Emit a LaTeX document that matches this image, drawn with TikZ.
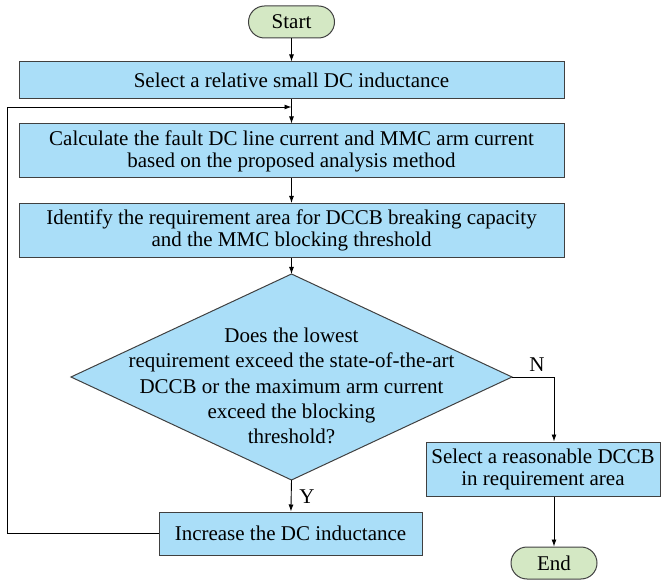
\documentclass[tikz,border=0pt]{standalone}
\usepackage{fontspec}
\setmainfont{Liberation Serif}
\usetikzlibrary{arrows.meta}
\definecolor{boxblue}{RGB}{170,222,248}
\definecolor{termgreen}{RGB}{212,232,196}
\definecolor{edgegray}{RGB}{64,64,64}
\begin{document}
\begin{tikzpicture}[x=1pt,y=-1pt,
  proc/.style={draw=edgegray, fill=boxblue, line width=1pt, inner sep=0pt, align=center, font=\fontsize{21}{22}\selectfont},
  term/.style={draw=edgegray, fill=termgreen, line width=1pt, rounded corners=16pt, minimum width=86pt, minimum height=32pt, inner sep=0pt, font=\fontsize{21}{22}\selectfont},
  arr/.style={-{Latex[length=7pt,width=5pt]}, line width=0.9pt},
  lbl/.style={font=\fontsize{21}{22}\selectfont, inner sep=0pt}]
\useasboundingbox (0,0) rectangle (662,580);
\node[term] (start) at (291.5,22) {Start};
\node[proc, minimum width=545pt, minimum height=37pt] (b1) at (291.5,80.5) {Select a relative small DC inductance};
\node[proc, minimum width=545pt, minimum height=54pt] (b2) at (291.5,151) {Calculate the fault DC line current and MMC arm current\\based on the proposed analysis method};
\node[proc, minimum width=545pt, minimum height=54pt] (b3) at (291.5,230.5) {Identify the requirement area for DCCB breaking capacity\\and the MMC blocking threshold};
\coordinate (dtop) at (291.5,274);
\coordinate (dright) at (512,377);
\coordinate (dbot) at (291.5,480);
\coordinate (dleft) at (71,377);
\draw[draw=edgegray, fill=boxblue, line width=1pt] (dtop) -- (dright) -- (dbot) -- (dleft) -- cycle;
\node[align=center, inner sep=0pt, font=\fontsize{21}{25.3}\selectfont] (dq) at (291.5,386) {Does the lowest\\requirement exceed the state-of-the-art\\DCCB or the maximum arm current\\exceed the blocking\\threshold?};
\node[proc, minimum width=234pt, minimum height=54pt] (b4) at (543,469) {Select a reasonable DCCB\\in requirement area};
\node[proc, minimum width=263pt, minimum height=43pt] (b5) at (290.5,533.5) {Increase the DC inductance};
\node[term] (end) at (554,563) {End};
\node[lbl] (nlab) at (537,365) {N};
\node[lbl] (ylab) at (307,497) {Y};
\coordinate (fbc) at (7,107);
\coordinate (merge) at (291.5,107);
\draw[arr] (start) -- (b1);
\draw[arr] (b1) -- (b2);
\draw[arr] (b2) -- (b3);
\draw[arr] (b3) -- (dtop);
\draw[arr] (dbot) -- (b5);
\draw[arr] (dright) -| (end |- b4.north);
\draw[arr] (end |- b4.south) -- (end);
\draw[arr] (b5.west) -| (fbc) -- (merge);
\end{tikzpicture}
\end{document}
